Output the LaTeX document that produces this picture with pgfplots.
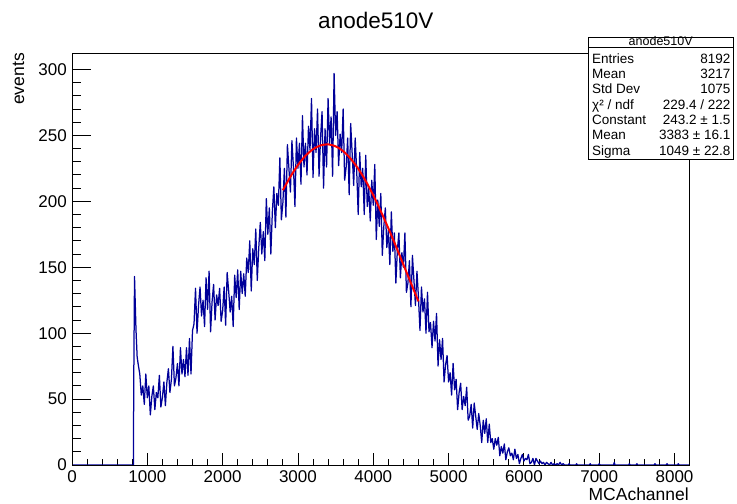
\documentclass[border=0pt]{standalone}
\usepackage{fontspec}
\setmainfont{Liberation Sans}
\usepackage{pgfplots}
\pgfplotsset{compat=1.18}
\definecolor{hblue}{RGB}{0,0,153}
\pgfplotsset{
  rootbase/.style={
    at={(72bp,39bp)}, anchor=south west, scale only axis,
    width=617bp, height=412bp,
    xmin=0, xmax=8192, ymin=0, ymax=312.5,
    axis line style={black, line width=0.9bp},
    tick style={black, line width=0.9bp},
    tick align=inside,
    /pgf/number format/assume math mode=true,
    /pgf/number format/1000 sep={},
    scaled x ticks=false, scaled y ticks=false,
    ticklabel style={font=\fontsize{17bp}{20bp}\selectfont, inner sep=0pt},
  }
}
\begin{document}
\begin{tikzpicture}
\path[use as bounding box] (0,0) rectangle (737bp,504bp);
\begin{axis}[rootbase,
  xtick={0,1000,...,8000}, minor x tick num=4, ytick=\empty,
  xtick pos=bottom,
  major tick length=12.4bp, minor tick length=6.2bp,
  xticklabel style={anchor=north, yshift=-5bp},
  clip=true]
\addplot[hblue, line width=1.25bp, sharp plot, line join=round, mark=none] coordinates {
(0,0) (815,0) (820,64) (830,143) (850,102) (865,82) (880,76)
(900,69) (920,53) (940,60) (960,46) (980,69) (1000,51) (1020,60) (1040,38) (1060,52) (1080,60)
(1100,42) (1120,55) (1140,51) (1160,68) (1180,44) (1200,51) (1220,63) (1240,45) (1260,63) (1280,73)
(1300,55) (1320,65) (1340,90) (1360,60) (1380,66) (1400,77) (1420,60) (1440,89) (1460,69) (1480,80)
(1500,67) (1520,89) (1540,68) (1560,96) (1580,69) (1600,102) (1620,107) (1640,134) (1660,100) (1680,121)
(1700,135) (1720,113) (1740,125) (1760,105) (1780,142) (1800,118) (1820,147) (1840,101) (1860,124) (1880,137)
(1900,110) (1920,129) (1940,121) (1960,134) (1980,109) (2000,117) (2020,135) (2040,106) (2060,146) (2080,132)
(2100,116) (2120,128) (2140,105) (2160,144) (2180,127) (2200,148) (2220,118) (2240,147) (2260,130) (2280,145)
(2300,128) (2320,157) (2340,146) (2360,170) (2380,132) (2400,164) (2420,152) (2440,179) (2460,140) (2480,165)
(2500,184) (2520,160) (2540,177) (2560,155) (2580,202) (2600,175) (2620,195) (2640,160) (2660,192) (2680,211)
(2700,180) (2720,206) (2740,197) (2760,233) (2780,186) (2800,199) (2820,225) (2840,188) (2860,243) (2880,225)
(2900,207) (2920,246) (2940,226) (2960,196) (2980,248) (3000,225) (3020,244) (3040,213) (3060,265) (3080,226)
(3100,244) (3120,220) (3140,257) (3160,239) (3180,278) (3200,218) (3220,255) (3240,237) (3260,270) (3280,219)
(3300,248) (3320,268) (3340,210) (3360,255) (3380,226) (3400,278) (3420,244) (3440,264) (3460,219) (3480,297)
(3500,250) (3520,268) (3540,227) (3560,251) (3580,237) (3600,270) (3620,216) (3640,226) (3660,248) (3680,205)
(3700,259) (3720,236) (3740,212) (3760,248) (3780,223) (3800,190) (3820,237) (3840,211) (3860,225) (3880,190)
(3900,235) (3920,196) (3940,210) (3960,185) (3980,216) (4000,197) (4020,228) (4040,171) (4060,201) (4080,181)
(4100,206) (4120,159) (4140,181) (4160,195) (4180,165) (4200,178) (4220,152) (4240,192) (4260,162) (4280,176)
(4300,138) (4320,163) (4340,176) (4360,142) (4380,161) (4400,150) (4420,176) (4440,131) (4460,138) (4480,155)
(4500,120) (4520,159) (4540,140) (4560,121) (4580,147) (4600,127) (4620,102) (4640,135) (4660,116) (4680,126)
(4700,100) (4720,131) (4740,101) (4760,108) (4780,89) (4800,109) (4820,94) (4840,115) (4860,75) (4880,95)
(4900,80) (4920,96) (4940,63) (4960,76) (4980,83) (5000,63) (5020,70) (5040,53) (5060,77) (5080,57)
(5100,65) (5120,42) (5140,55) (5160,62) (5180,42) (5200,52) (5220,45) (5240,59) (5260,34) (5280,37)
(5300,46) (5320,28) (5340,47) (5360,37) (5380,27) (5400,39) (5420,30) (5440,17) (5460,34) (5480,24)
(5500,35) (5520,17) (5540,31) (5560,17) (5580,20) (5600,12) (5620,20) (5640,15) (5660,21) (5680,7)
(5700,14) (5720,9) (5740,16) (5760,4) (5780,10) (5800,13) (5820,7) (5840,9) (5860,4) (5880,12)
(5900,5) (5920,8) (5940,1) (5960,5) (5980,8) (6000,3) (6020,5) (6040,4) (6060,8) (6080,1)
(6100,2) (6120,5) (6140,0) (6160,5) (6180,3) (6200,1) (6220,3) (6240,1) (6260,2) (6280,0)
(6300,2) (6320,1) (6340,0) (6360,2) (6380,0) (6400,1) (6420,0) (6440,1) (6460,0) (6480,2)
(6500,0) (6520,1) (6540,0) (6590,0) (6600,1) (6610,0) (6690,0) (6700,1) (6710,0) (6870,0) (6880,1)
(6890,0) (6990,0) (7000,1) (7010,0) (7190,0) (7200,2) (7210,0) (7390,0) (7400,1) (7410,0)
(7490,0) (7500,1) (7510,0) (7730,0) (7740,1) (7750,0) (7890,0) (7900,1) (7910,0)
(8040,0) (8050,1) (8060,0) (8192,0)
};
\addplot[red, line width=2bp, smooth, mark=none] coordinates {
(2800,208.4) (2900,218.7) (3000,227.5) (3100,234.5) (3200,239.5) (3300,242.4) (3400,243.2)
(3500,241.7) (3600,238.1) (3700,232.3) (3800,224.7) (3900,215.4) (4000,204.6) (4100,192.5)
(4200,179.6) (4300,166.0) (4400,152.0) (4500,138.0) (4600,124.1)
};
\end{axis}
\begin{axis}[rootbase,
  xtick=\empty, ytick={0,50,...,300}, minor y tick num=4,
  ytick pos=left,
  major tick length=18.5bp, minor tick length=9.3bp,
  yticklabel style={anchor=east, xshift=-5bp}]
\end{axis}
% title and axis titles
\node[anchor=base, inner sep=0pt, font=\fontsize{22.5bp}{26bp}\selectfont] at (375.8bp,475.7bp) {anode510V};
\node[anchor=base east, inner sep=0pt, font=\fontsize{17.5bp}{20bp}\selectfont] at (689bp,4bp) {MCAchannel};
\node[anchor=base east, rotate=90, inner sep=0pt, font=\fontsize{17.5bp}{20bp}\selectfont] at (24bp,451bp) {events};
% stats box
\filldraw[fill=white, draw=black, line width=0.9bp] (588bp,345bp) rectangle (733.5bp,467bp);
\draw[black, line width=0.9bp] (588bp,456.5bp) -- (733.5bp,456.5bp);
\node[anchor=base, inner sep=0pt, font=\fontsize{12.5bp}{14bp}\selectfont] at (660.7bp,458.3bp) {anode510V};
\begin{scope}[every node/.style={inner sep=0pt, font=\fontsize{13.5bp}{15bp}\selectfont}]
\node[anchor=base west] at (592bp,440.7bp) {Entries};
\node[anchor=base east] at (730.5bp,440.7bp) {8192};
\node[anchor=base west] at (592bp,425.4bp) {Mean};
\node[anchor=base east] at (730.5bp,425.4bp) {3217};
\node[anchor=base west] at (592bp,410.1bp) {Std Dev};
\node[anchor=base east] at (730.5bp,410.1bp) {1075};
\node[anchor=base west] at (592bp,394.8bp) {χ² / ndf};
\node[anchor=base east] at (730.5bp,394.8bp) {229.4 / 222};
\node[anchor=base west] at (592bp,379.5bp) {Constant};
\node[anchor=base east] at (730.5bp,379.5bp) {243.2 ± 1.5};
\node[anchor=base west] at (592bp,364.2bp) {Mean};
\node[anchor=base east] at (730.5bp,364.2bp) {3383 ± 16.1};
\node[anchor=base west] at (592bp,348.9bp) {Sigma};
\node[anchor=base east] at (730.5bp,348.9bp) {1049 ± 22.8};
\end{scope}
\end{tikzpicture}
\end{document}
